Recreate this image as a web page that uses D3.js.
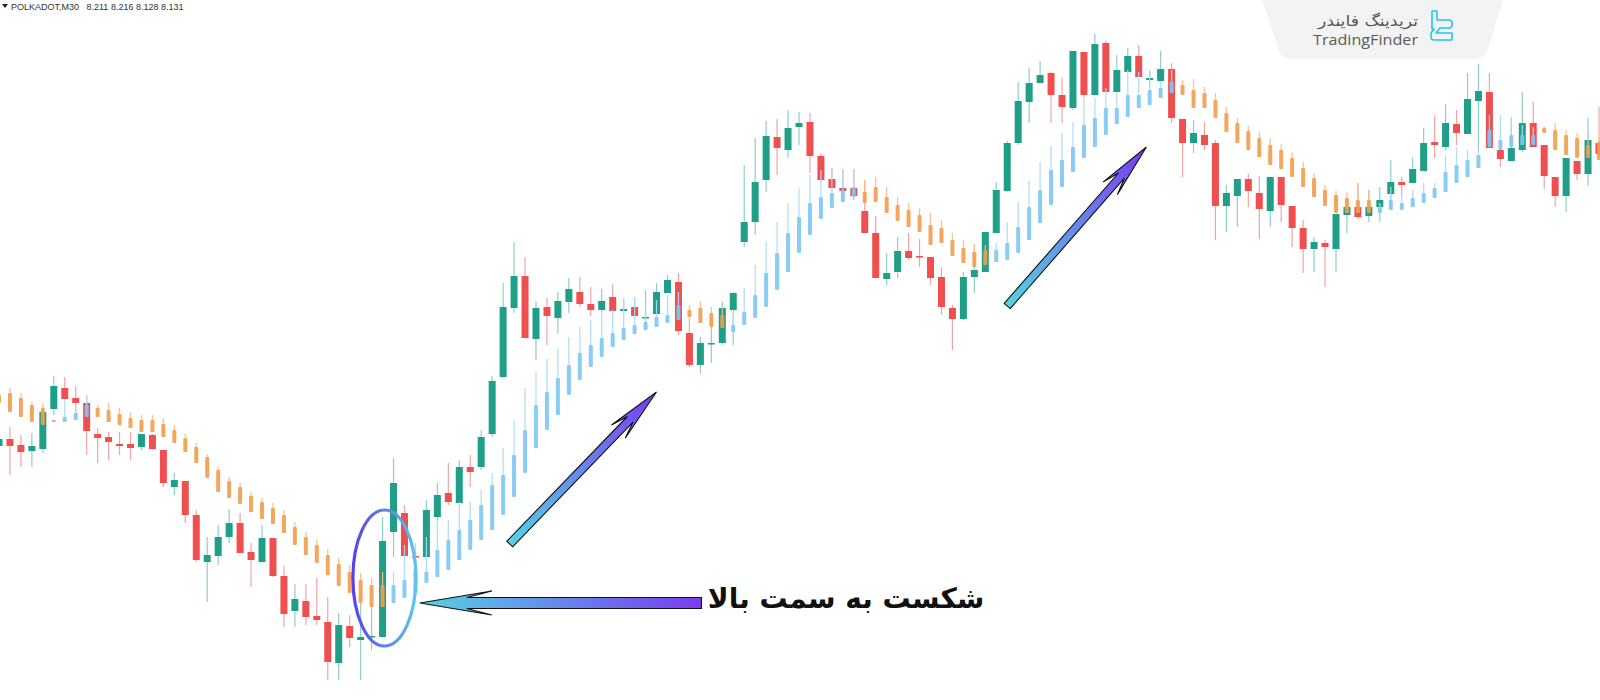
<!DOCTYPE html>
<html>
<head>
<meta charset="utf-8">
<script src="https://cdn.jsdelivr.net/npm/d3@7"></script>
<style>
  html, body { margin: 0; padding: 0; background: #fff; }
  svg { display: block; }
</style>
</head>
<body>
<script>
// Candles (open, high, low, close) - POLKADOT M30
var ohlc = [
  [7.954,7.963,7.950,7.961],[7.961,7.973,7.925,7.954],[7.955,7.965,7.933,7.948],[7.949,7.967,7.933,7.954],
  [7.951,7.990,7.947,7.988],[7.991,8.024,7.985,8.014],[8.012,8.023,8.000,8.001],[8.002,8.014,7.983,7.997],
  [7.997,8.005,7.945,7.969],[7.966,7.972,7.937,7.962],[7.963,7.968,7.940,7.958],[7.956,7.968,7.945,7.954],
  [7.956,7.968,7.940,7.952],[7.953,7.966,7.950,7.966],[7.965,7.966,7.950,7.951],[7.950,7.950,7.913,7.917],
  [7.913,7.927,7.905,7.920],[7.919,7.919,7.877,7.885],[7.885,7.890,7.838,7.840],[7.838,7.863,7.798,7.845],
  [7.844,7.875,7.835,7.863],[7.863,7.891,7.857,7.877],[7.877,7.887,7.847,7.847],[7.848,7.857,7.813,7.840],
  [7.838,7.875,7.837,7.862],[7.862,7.862,7.823,7.824],[7.824,7.834,7.773,7.786],[7.789,7.816,7.773,7.801],
  [7.799,7.816,7.775,7.783],[7.784,7.822,7.775,7.780],[7.778,7.803,7.720,7.738],[7.737,7.787,7.720,7.775],
  [7.774,7.785,7.753,7.762],[7.760,7.798,7.720,7.763],[7.763,7.798,7.750,7.764],[7.763,7.883,7.763,7.859],
  [7.868,7.942,7.843,7.917],[7.887,7.895,7.840,7.844],[7.844,7.855,7.835,7.843],[7.843,7.900,7.843,7.890],
  [7.883,7.917,7.880,7.905],[7.907,7.937,7.895,7.898],[7.897,7.940,7.897,7.933],[7.933,7.945,7.913,7.928],
  [7.933,7.970,7.930,7.963],[7.966,8.024,7.963,8.019],[8.023,8.117,8.022,8.093],[8.092,8.158,8.087,8.124],
  [8.124,8.143,8.062,8.062],[8.061,8.099,8.040,8.092],[8.093,8.102,8.055,8.084],[8.082,8.108,8.066,8.099],
  [8.098,8.122,8.087,8.111],[8.108,8.123,8.093,8.096],[8.096,8.113,8.084,8.090],[8.090,8.111,8.088,8.099],
  [8.103,8.116,8.087,8.089],[8.089,8.102,8.088,8.091],[8.093,8.103,8.083,8.084],[8.082,8.110,8.070,8.083],
  [8.086,8.117,8.083,8.108],[8.107,8.125,8.107,8.120],[8.118,8.127,8.065,8.069],[8.067,8.082,8.033,8.035],
  [8.035,8.063,8.026,8.057],[8.056,8.082,8.037,8.057],[8.057,8.098,8.055,8.092],[8.090,8.108,8.055,8.107],
  [8.158,8.235,8.153,8.178],[8.178,8.262,8.165,8.218],[8.220,8.279,8.208,8.264],[8.263,8.281,8.225,8.252],
  [8.250,8.290,8.242,8.272],[8.273,8.288,8.255,8.277],[8.278,8.287,8.227,8.244],[8.244,8.247,8.218,8.220],
  [8.221,8.232,8.210,8.212],[8.212,8.231,8.205,8.209],[8.212,8.231,8.200,8.204],[8.189,8.220,8.167,8.167],
  [8.167,8.184,8.122,8.122],[8.121,8.147,8.115,8.127],[8.128,8.163,8.122,8.149],[8.149,8.167,8.140,8.142],
  [8.144,8.161,8.133,8.143],[8.143,8.143,8.115,8.122],[8.123,8.133,8.085,8.093],[8.092,8.095,8.050,8.081],
  [8.081,8.128,8.080,8.123],[8.123,8.155,8.107,8.130],[8.128,8.168,8.128,8.168],[8.167,8.218,8.167,8.210],
  [8.209,8.259,8.208,8.257],[8.257,8.318,8.255,8.299],[8.298,8.332,8.277,8.317],[8.317,8.339,8.317,8.325],
  [8.327,8.328,8.277,8.305],[8.305,8.322,8.277,8.293],[8.292,8.349,8.290,8.349],[8.348,8.348,8.303,8.305],
  [8.305,8.366,8.305,8.356],[8.357,8.359,8.308,8.308],[8.308,8.345,8.308,8.330],[8.328,8.352,8.328,8.344],
  [8.344,8.355,8.323,8.323],[8.320,8.330,8.315,8.322],[8.319,8.349,8.318,8.331],[8.331,8.337,8.277,8.282],
  [8.281,8.281,8.223,8.257],[8.257,8.280,8.247,8.267],[8.265,8.278,8.250,8.255],[8.257,8.260,8.160,8.194],
  [8.194,8.215,8.168,8.207],[8.204,8.221,8.173,8.221],[8.221,8.226,8.193,8.209],[8.207,8.224,8.161,8.191],
  [8.189,8.223,8.173,8.223],[8.223,8.223,8.178,8.195],[8.194,8.194,8.153,8.172],[8.172,8.180,8.127,8.151],
  [8.151,8.163,8.128,8.158],[8.157,8.160,8.113,8.153],[8.151,8.186,8.128,8.186],[8.185,8.193,8.167,8.193],
  [8.193,8.217,8.181,8.183],[8.184,8.210,8.178,8.193],[8.193,8.213,8.178,8.200],[8.206,8.240,8.192,8.218],
  [8.218,8.223,8.205,8.215],[8.217,8.242,8.217,8.231],[8.229,8.272,8.229,8.257],[8.258,8.284,8.242,8.255],
  [8.253,8.296,8.250,8.277],[8.276,8.290,8.255,8.267],[8.266,8.327,8.266,8.301],[8.299,8.336,8.250,8.309],
  [8.308,8.327,8.252,8.252],[8.250,8.250,8.233,8.241],[8.239,8.283,8.239,8.252],[8.250,8.308,8.248,8.277],
  [8.277,8.298,8.253,8.253],[8.255,8.255,8.211,8.224],[8.223,8.223,8.193,8.204],[8.204,8.242,8.188,8.242],
  [8.239,8.239,8.220,8.226],[8.226,8.282,8.214,8.260],[8.257,8.293,8.246,8.246]
];

// Trend indicator bars (high, body top, low)
var trendBars = [
  [8.008,8.005,7.997],[8.012,8.007,7.988],[8.007,8.002,7.983],[7.998,7.995,7.978],[7.997,7.992,7.975],
  [7.980,7.980,7.978],[8.001,7.983,7.978],[7.997,7.987,7.980],[8.005,7.995,7.983],[7.995,7.992,7.983],
  [7.997,7.990,7.978],[7.992,7.986,7.975],[7.988,7.982,7.972],[7.985,7.980,7.968],[7.985,7.980,7.968],
  [7.982,7.976,7.963],[7.975,7.970,7.957],[7.966,7.962,7.948],[7.957,7.953,7.937],[7.946,7.943,7.922],
  [7.933,7.930,7.908],[7.923,7.919,7.902],[7.917,7.913,7.896],[7.908,7.904,7.888],[7.902,7.898,7.881],
  [7.897,7.892,7.876],[7.890,7.885,7.867],[7.878,7.873,7.855],[7.868,7.863,7.845],[7.860,7.855,7.837],
  [7.851,7.845,7.825],[7.842,7.836,7.814],[7.835,7.828,7.807],[7.827,7.820,7.797],[7.822,7.815,7.793],
  [7.828,7.815,7.793],[7.828,7.815,7.797],[7.855,7.820,7.802],[7.857,7.830,7.807],[7.863,7.828,7.817],
  [7.880,7.850,7.823],[7.880,7.860,7.830],[7.898,7.870,7.840],[7.898,7.880,7.850],[7.910,7.895,7.860],
  [7.927,7.915,7.870],[7.952,7.925,7.885],[7.980,7.945,7.903],[8.012,7.970,7.927],[8.028,7.995,7.952],
  [8.041,8.008,7.970],[8.052,8.022,7.985],[8.063,8.035,8.005],[8.073,8.047,8.020],[8.080,8.055,8.033],
  [8.090,8.062,8.043],[8.090,8.067,8.053],[8.102,8.072,8.060],[8.103,8.075,8.066],[8.095,8.078,8.070],
  [8.100,8.083,8.073],[8.105,8.085,8.077],[8.108,8.095,8.080],[8.095,8.090,8.083],[8.099,8.092,8.077],
  [8.093,8.087,8.073],[8.092,8.085,8.072],[8.082,8.075,8.068],[8.112,8.088,8.075],[8.135,8.105,8.082],
  [8.158,8.127,8.093],[8.178,8.147,8.110],[8.197,8.167,8.128],[8.212,8.183,8.147],[8.225,8.197,8.165],
  [8.230,8.203,8.181],[8.230,8.207,8.192],[8.231,8.210,8.198],[8.231,8.213,8.203],[8.220,8.208,8.197],
  [8.223,8.213,8.198],[8.213,8.203,8.187],[8.203,8.195,8.179],[8.197,8.190,8.173],[8.192,8.185,8.168],
  [8.187,8.175,8.155],[8.180,8.172,8.157],[8.167,8.160,8.144],[8.160,8.152,8.137],[8.156,8.148,8.133],
  [8.155,8.150,8.135],[8.157,8.150,8.138],[8.178,8.157,8.140],[8.198,8.173,8.147],[8.219,8.193,8.160],
  [8.238,8.210,8.177],[8.254,8.230,8.195],[8.267,8.240,8.213],[8.278,8.253,8.228],[8.303,8.275,8.242],
  [8.302,8.282,8.253],[8.312,8.292,8.265],[8.308,8.292,8.276],[8.330,8.305,8.283],[8.328,8.305,8.292],
  [8.330,8.310,8.295],[8.318,8.312,8.302],[8.330,8.318,8.307],[8.320,8.315,8.305],[8.321,8.310,8.292],
  [8.313,8.307,8.292],[8.307,8.300,8.282],[8.293,8.287,8.268],[8.282,8.277,8.257],[8.274,8.269,8.250],
  [8.268,8.262,8.243],[8.262,8.255,8.235],[8.256,8.250,8.231],[8.248,8.242,8.223],[8.238,8.232,8.213],
  [8.227,8.222,8.203],[8.215,8.210,8.194],[8.209,8.205,8.187],[8.208,8.202,8.187],[8.217,8.200,8.187],
  [8.210,8.200,8.187],[8.197,8.193,8.187],[8.213,8.200,8.190],[8.205,8.197,8.190],[8.210,8.202,8.193],
  [8.217,8.207,8.197],[8.217,8.212,8.202],[8.245,8.228,8.208],[8.253,8.235,8.217],[8.250,8.240,8.223],
  [8.250,8.245,8.232],[8.285,8.270,8.253],[8.285,8.260,8.250],[8.283,8.265,8.253],[8.275,8.265,8.255],
  [8.273,8.265,8.255],[8.274,8.272,8.267],[8.277,8.270,8.250],[8.270,8.265,8.245],[8.267,8.262,8.242],
  [8.260,8.255,8.242],[8.263,8.258,8.240]
];

// trend runs: negative = down (orange, above price), positive = up (blue, below price)
var trendRuns = [-6, 3, -27, 27, -4, 12, -12, 17, -18, 15, -6];

var headerSymbol = "POLKADOT,M30";
var headerValues = ["8.211", "8.216", "8.128", "8.131"];
var breakoutLabel = "شکست به سمت بالا";
var logoFa = "تریدینگ فایندر";
var logoEn = "TradingFinder";

// annotation anchors in (bar index, price)
var ellipseAt = [35.17, 7.822];
var flatArrow = [[64.1, 7.797], [38.4, 7.797]];
var upArrows = [
  [[46.6, 7.856], [60.0, 8.008]],
  [[92.0, 8.094], [104.7, 8.253]]
];
var labelAt = [77.3, 7.792];

var width = 1600,
    height = 700;

var svg = d3.select("body").append("svg")
    .attr("width", width)
    .attr("height", height);

var x = d3.scaleLinear().domain([0, 146]).range([-1, 1599]);
var y = d3.scaleLinear().domain([7.700, 8.400]).range([700, 0]);

// expand trend runs into per-bar direction
var dirs = [];
trendRuns.forEach(function(r) {
    for (var k = 0; k < Math.abs(r); k++) dirs.push(r > 0 ? 1 : -1);
});

var col = {
    up: "#1f9e88", down: "#ef4f4f",
    upWick: "#8fcfc3", downWick: "#f2a3a3",
    st_dn: "#f2a04f", st_dnWick: "#f5c089",
    st_up: "#80c8f4", st_upWick: "#aedcf7"
};

var defs = svg.append("defs");

// logo box
svg.append("path")
    .attr("d", "M1262,0 L1503,0 L1488,48 Q1485,59 1474,59 L1292,59 Q1281,59 1278,48 Z")
    .style("fill", "#f3f3f3");

svg.append("text")
    .attr("x", 1418).attr("y", 26)
    .attr("text-anchor", "end")
    .attr("textLength", 100)
    .attr("lengthAdjust", "spacingAndGlyphs")
    .style("font-family", "DejaVu Sans")
    .style("font-size", "15px")
    .style("fill", "#555")
    .text(logoFa);

svg.append("text")
    .attr("x", 1313).attr("y", 45)
    .attr("textLength", 105)
    .attr("lengthAdjust", "spacingAndGlyphs")
    .style("font-family", "Open Sans")
    .style("font-size", "15px")
    .style("fill", "#5a5a5a")
    .text(logoEn);

svg.append("path")
    .attr("d", "M1432,11 h5 v9 h12 a3,3 0 0 1 3,3 v2 a3,3 0 0 1 -3,3 h-9 l-4,5 h16 v7 h-18 a3,3 0 0 1 -3,-3 v-4 l3,-4 h-2 Z")
    .style("fill", "none")
    .style("stroke", "#1fc8ee")
    .style("stroke-width", 1.6)
    .style("stroke-linejoin", "round");

// header
svg.append("path")
    .attr("d", "M2,4 L8,4 L5,8 Z")
    .style("fill", "#222");
svg.append("text")
    .attr("x", 11).attr("y", 10)
    .style("font-family", "Liberation Sans")
    .style("font-size", "9px")
    .style("white-space", "pre")
    .style("fill", "#333")
    .text(headerSymbol + "   " + headerValues.join(" "));

// candles
var bars = svg.append("g").selectAll("g")
    .data(ohlc)
    .enter()
    .append("g");

bars.append("line")
    .attr("x1", function(d, i) { return x(i); })
    .attr("x2", function(d, i) { return x(i); })
    .attr("y1", function(d) { return y(d[1]); })
    .attr("y2", function(d) { return y(d[2]); })
    .style("stroke", function(d) { return d[3] >= d[0] ? col.upWick : col.downWick; })
    .style("stroke-width", 1.2);

bars.append("rect")
    .attr("x", function(d, i) { return x(i) - 3.5; })
    .attr("width", 7)
    .attr("y", function(d) { return y(Math.max(d[0], d[3])); })
    .attr("height", function(d) { return Math.max(1.5, Math.abs(y(d[0]) - y(d[3]))); })
    .style("fill", function(d) { return d[3] >= d[0] ? col.up : col.down; });

// trend indicator bars
var st = svg.append("g").selectAll("g")
    .data(trendBars)
    .enter()
    .append("g")
    .style("opacity", 0.92);

st.append("line")
    .attr("x1", function(d, i) { return x(i); })
    .attr("x2", function(d, i) { return x(i); })
    .attr("y1", function(d) { return y(d[0]); })
    .attr("y2", function(d) { return y(d[2]); })
    .style("stroke", function(d, i) { return dirs[i] > 0 ? col.st_upWick : col.st_dnWick; })
    .style("stroke-width", 1.3);

st.append("rect")
    .attr("x", function(d, i) { return x(i) - 2; })
    .attr("width", 4)
    .attr("y", function(d) { return y(d[1]); })
    .attr("height", function(d) { return Math.max(2, y(d[2]) - y(d[1])); })
    .attr("rx", 1)
    .style("fill", function(d, i) { return dirs[i] > 0 ? col.st_up : col.st_dn; });

// gradients
function grad(id, x1, y1, x2, y2, c1, c2) {
    var g = defs.append("linearGradient")
        .attr("id", id)
        .attr("gradientUnits", "userSpaceOnUse")
        .attr("x1", x1).attr("y1", y1)
        .attr("x2", x2).attr("y2", y2);
    g.append("stop").attr("offset", "0%").attr("stop-color", c1);
    g.append("stop").attr("offset", "100%").attr("stop-color", c2);
}

var cyan = "#55d2e2", purple = "#7a3cf2";

// arrow outline from tail to tip
function arrowPath(x1, y1, x2, y2, half, headLen, headHalf, neck) {
    var dx = x2 - x1, dy = y2 - y1, L = Math.sqrt(dx * dx + dy * dy);
    var ux = dx / L, uy = dy / L, nx = -uy, ny = ux;
    function p(a, b) { return [x2 - ux * a + nx * b, y2 - uy * a + ny * b]; }
    var pts = [
        [x1 + nx * half, y1 + ny * half],
        p(neck, half), p(headLen, headHalf), [x2, y2],
        p(headLen, -headHalf), p(neck, -half),
        [x1 - nx * half, y1 - ny * half]
    ];
    return "M" + pts.map(function(q) { return q[0].toFixed(1) + "," + q[1].toFixed(1); }).join("L") + "Z";
}

// ellipse around breakout candle
var ex = x(ellipseAt[0]), ey = y(ellipseAt[1]);
grad("ellGrad", ex - 32, ey, ex + 32, ey, "#5a3ff0", "#5ec6ea");
svg.append("ellipse")
    .attr("cx", ex).attr("cy", ey)
    .attr("rx", 31.5).attr("ry", 68)
    .style("fill", "none")
    .style("stroke", "url(#ellGrad)")
    .style("stroke-width", 3.2);

// horizontal arrow
var hx1 = x(flatArrow[0][0]), hy1 = y(flatArrow[0][1]),
    hx2 = x(flatArrow[1][0]), hy2 = y(flatArrow[1][1]);
grad("hGrad", hx2, hy2, hx1, hy1, cyan, purple);
svg.append("path")
    .attr("d", arrowPath(hx1, hy1, hx2, hy2, 5.5, 72, 12, 47))
    .style("fill", "url(#hGrad)")
    .style("stroke", "#111")
    .style("stroke-width", 1.1);

// diagonal arrows
upArrows.forEach(function(a, k) {
    var ax1 = x(a[0][0]), ay1 = y(a[0][1]), ax2 = x(a[1][0]), ay2 = y(a[1][1]);
    grad("dGrad" + k, ax1, ay1, ax2, ay2, cyan, purple);
    svg.append("path")
        .attr("d", arrowPath(ax1, ay1, ax2, ay2, 4, 55, 9.5, 38))
        .style("fill", "url(#dGrad" + k + ")")
        .style("stroke", "#111")
        .style("stroke-width", 1.1);
});

// label
svg.append("text")
    .attr("x", x(labelAt[0])).attr("y", y(labelAt[1]))
    .attr("text-anchor", "middle")
    .attr("direction", "rtl")
    .style("font-family", "DejaVu Sans")
    .style("font-weight", "bold")
    .style("font-size", "28px")
    .style("fill", "#111")
    .text(breakoutLabel);
</script>
</body>
</html>
